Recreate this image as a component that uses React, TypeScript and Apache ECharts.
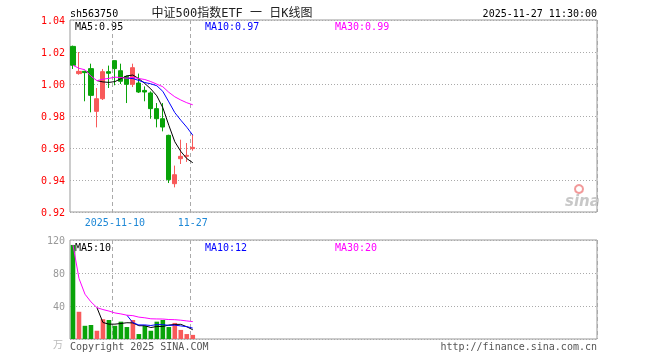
import { useEffect, useRef } from 'react';
import * as echarts from 'echarts';

const dates = ['2025-10-30','2025-10-31','2025-11-03','2025-11-04','2025-11-05','2025-11-06','2025-11-07','2025-11-10','2025-11-11','2025-11-12','2025-11-13','2025-11-14','2025-11-17','2025-11-18','2025-11-19','2025-11-20','2025-11-21','2025-11-24','2025-11-25','2025-11-26','2025-11-27'];
const openP = [1.0235, 1.0065, 1.0079, 1.0096, 0.9829, 0.9908, 1.0077, 1.0146, 1.0083, 1.0048, 0.9998, 1.0006, 0.996, 0.9944, 0.9846, 0.9783, 0.9679, 0.9377, 0.9533, 0.9548, 0.9596];
const closeP = [1.0117, 1.0079, 1.0071, 0.9929, 0.9908, 1.0077, 1.0067, 1.0096, 1.0017, 0.9998, 1.0102, 0.995, 0.995, 0.9846, 0.9783, 0.9731, 0.9402, 0.9433, 0.9548, 0.9554, 0.9604];
const lowP = [1.0094, 1.0058, 0.9892, 0.9823, 0.9729, 0.9900, 0.9975, 0.9992, 1.0000, 0.9881, 0.9981, 0.9944, 0.9892, 0.9783, 0.9729, 0.9704, 0.9381, 0.9354, 0.9500, 0.9513, 0.9583];
const highP = [1.0240, 1.0200, 1.0083, 1.0127, 0.9975, 1.0094, 1.0115, 1.0146, 1.0127, 1.0052, 1.0127, 1.0065, 0.9985, 0.9954, 0.9881, 0.9881, 0.9683, 0.9490, 0.9652, 0.9631, 0.9683];
const volume = [114, 33, 16, 17, 10, 24, 23, 16, 21, 14.5, 23, 6, 16, 10, 21, 23, 14.5, 19.5, 11, 6, 5];

const priceMa5 = [null, null, null, null, 1.0021, 1.0013, 1.0010, 1.0015, 1.0033, 1.0051, 1.0056, 1.0033, 1.0003, 0.9969, 0.9926, 0.9852, 0.9742, 0.9639, 0.9579, 0.9534, 0.9508];
const priceMa10 = [null, null, null, null, null, null, null, null, null, 1.0036, 1.0034, 1.0022, 1.0009, 1.0001, 0.9989, 0.9954, 0.9888, 0.9821, 0.9774, 0.9730, 0.9680];
const priceMa30 = [1.0117, 1.0098, 1.0089, 1.0049, 1.0021, 1.0030, 1.0035, 1.0043, 1.0040, 1.0036, 1.0042, 1.0034, 1.0028, 1.0015, 0.9999, 0.9983, 0.9948, 0.9920, 0.9900, 0.9883, 0.9870];
const volMa5 = [null, null, null, null, 38, 20, 18, 18, 18.8, 19.7, 19.5, 16.1, 16.1, 13.9, 15.2, 15.2, 16.9, 17.6, 17.8, 14.8, 11.2];
const volMa10 = [null, null, null, null, null, null, null, null, null, 28.85, 19.75, 17.05, 17.05, 16.35, 17.45, 17.35, 16.5, 16.85, 15.85, 15, 13.2];
const volMa30 = [114, 73.5, 54.3, 45, 38, 35.7, 33.9, 31.6, 30.4, 28.85, 28.3, 26.5, 25.7, 24.5, 24.3, 24.2, 23.6, 23.4, 22.8, 21.9, 21.1];

const markedDays = ['2025-11-10', '2025-11-27'];
const slotCount = 88;

const RED = '#f85a5a';
const GREEN = '#09a309';
const MONO = '"DejaVu Sans Mono", monospace';

export default function App() {
  const ref = useRef<HTMLDivElement>(null);
  useEffect(() => {
    if (!ref.current) return;
    const chart = echarts.init(ref.current, undefined, { renderer: 'svg' });
    const pads = Array.from({ length: slotCount - dates.length }, (_, i) => 'pad' + i);
    const categories = [...dates, ...pads];
    const markIdx = markedDays.map((d) => dates.indexOf(d));
    const isMark = (i: number) => markIdx.indexOf(i) >= 0;
    const candleData = dates.map((_, i) => [openP[i], closeP[i], lowP[i], highP[i]]);
    const volData = volume.map((v, i) => ({
      value: v,
      itemStyle: { color: closeP[i] >= openP[i] ? RED : GREEN },
    }));
    const txt = (text: string, x: number, y: number, fill: string, align = 'left', font = '10px ' + MONO) => ({
      type: 'text',
      x,
      y,
      silent: true,
      style: { text, fill, font, textAlign: align, textVerticalAlign: 'middle' },
    });
    const lineS = (data: any[], color: string, xi: number) => ({
      type: 'line',
      xAxisIndex: xi,
      yAxisIndex: xi,
      data,
      symbol: 'none',
      silent: true,
      lineStyle: { color, width: 1 },
      itemStyle: { color },
    });
    const xAx = (gi: number, showLabel: boolean) => ({
      type: 'category',
      gridIndex: gi,
      data: categories,
      boundaryGap: true,
      axisLine: { show: false },
      axisTick: { show: false },
      axisLabel: {
        show: showLabel,
        interval: (i: number) => isMark(i),
        formatter: (v: string, i: number) => (i === markIdx[0] ? v : v.slice(5)),
        color: '#1e88d6',
        fontFamily: MONO,
        fontSize: 10,
        margin: 5,
      },
      splitLine: {
        show: true,
        interval: (i: number) => isMark(i),
        lineStyle: { color: '#aaa', type: [4, 3], width: 1 },
      },
    });
    chart.setOption({
      animation: false,
      grid: [
        { left: 70, right: 63, top: 20, height: 192, show: true, borderColor: '#999', borderWidth: 1 },
        { left: 70, right: 63, top: 240, height: 99, show: true, borderColor: '#999', borderWidth: 1 },
      ],
      xAxis: [xAx(0, true), xAx(1, false)],
      yAxis: [
        {
          type: 'value',
          gridIndex: 0,
          min: 0.92,
          max: 1.04,
          interval: 0.02,
          axisLine: { show: false },
          axisTick: { show: false },
          axisLabel: { color: '#f00', fontFamily: MONO, fontSize: 10, margin: 5, formatter: (v: number) => v.toFixed(2) },
          splitLine: { lineStyle: { color: '#aaa', type: [1, 2] } },
        },
        {
          type: 'value',
          gridIndex: 1,
          min: 0,
          max: 120,
          interval: 40,
          axisLine: { show: false },
          axisTick: { show: false },
          axisLabel: { color: '#999', fontFamily: MONO, fontSize: 10, margin: 5, formatter: (v: number) => (v === 0 ? '' : String(v)) },
          splitLine: { lineStyle: { color: '#aaa', type: [1, 2] } },
        },
      ],
      series: [
        {
          type: 'candlestick',
          xAxisIndex: 0,
          yAxisIndex: 0,
          data: candleData,
          barWidth: 4.6,
          silent: true,
          itemStyle: { color: RED, color0: GREEN, borderColor: RED, borderColor0: GREEN, borderWidth: 1 },
        },
        lineS(priceMa5, '#000000', 0),
        lineS(priceMa10, '#0000ff', 0),
        lineS(priceMa30, '#ff00ff', 0),
        {
          type: 'bar',
          xAxisIndex: 1,
          yAxisIndex: 1,
          data: volData,
          barWidth: 4.6,
          silent: true,
        },
        lineS(volMa5, '#000000', 1),
        lineS(volMa10, '#0000ff', 1),
        lineS(volMa30, '#ff00ff', 1),
      ],
      graphic: [
        txt('sh563750', 70, 13, '#000'),
        txt('中证500指数ETF 一 日K线图', 232, 13, '#222', 'center', '12px ' + MONO + ', "Noto Sans CJK SC"'),
        txt('2025-11-27 11:30:00', 597, 13, '#000', 'right'),
        txt('MA5:0.95', 75, 26, '#000'),
        txt('MA10:0.97', 205, 26, '#0000ff'),
        txt('MA30:0.99', 335, 26, '#ff00ff'),
        txt('MA5:10', 75, 247, '#000'),
        txt('MA10:12', 205, 247, '#0000ff'),
        txt('MA30:20', 335, 247, '#ff00ff'),
        txt('Copyright 2025 SINA.COM', 70, 346, '#555'),
        txt('http://finance.sina.com.cn', 597, 346, '#555', 'right'),
        txt('万', 58, 343, '#bbb', 'center', '10px "Noto Sans CJK SC"'),
        {
          type: 'circle',
          silent: true,
          shape: { cx: 579, cy: 189, r: 4 },
          style: { fill: 'none', stroke: '#f29a9a', lineWidth: 2 },
        },
        {
          type: 'text',
          x: 565,
          y: 201,
          silent: true,
          style: { text: 'sina', fill: '#c8c8c8', font: 'italic bold 15px "DejaVu Sans"', textVerticalAlign: 'middle' },
        },
      ],
    });
    return () => chart.dispose();
  }, []);
  return <div ref={ref} style={{ position: 'fixed', left: 0, top: 0, width: 660, height: 360 }} />;
}
